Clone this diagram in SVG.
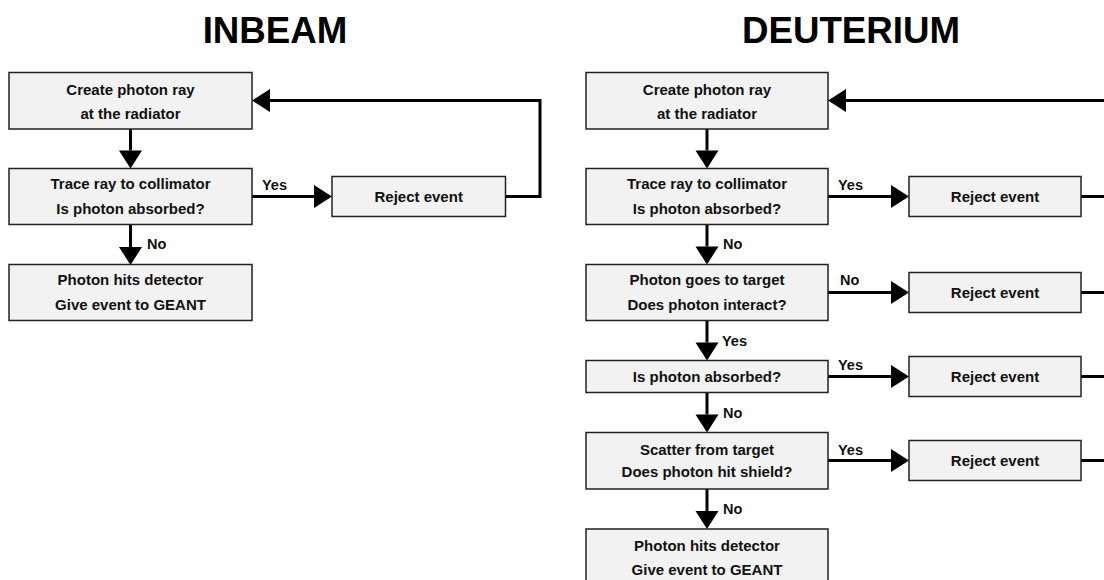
<svg xmlns="http://www.w3.org/2000/svg" width="1104" height="580" viewBox="0 0 1104 580">
  <defs>
    <style>
      .box { fill: #f2f2f2; stroke: #222; stroke-width: 1.5; }
      .t { font-family: "Liberation Sans", Arial, sans-serif; font-weight: bold; font-size: 15px; fill: #111; text-anchor: middle; }
      .lbl { font-family: "Liberation Sans", Arial, sans-serif; font-weight: bold; font-size: 14.5px; fill: #111; }
      .title { font-family: "Liberation Sans", Arial, sans-serif; font-weight: bold; font-size: 36.7px; fill: #000; text-anchor: middle; }
      .wire { fill: none; stroke: #000; stroke-width: 3; }
      .arr { fill: none; stroke: #000; stroke-width: 3; marker-end: url(#head); }
    </style>
    <!-- solid triangular arrowhead; the line stops at the base of the triangle -->
    <marker id="head" markerUnits="userSpaceOnUse" markerWidth="18" markerHeight="23" refX="0" refY="11.5" orient="auto" overflow="visible">
      <path d="M0,0 L18,11.5 L0,23 Z" fill="#000"/>
    </marker>
  </defs>

  <rect width="1104" height="580" fill="#fff"/>

  <text class="title" x="275" y="43">INBEAM</text>
  <text class="title" x="851" y="43">DEUTERIUM</text>

  <!-- connectors -->
  <g id="connectors">
    <!-- INBEAM -->
    <path class="arr" d="M130.5,129 V150.5"/>
    <path class="arr" d="M130.5,224.5 V247"/>
    <path class="arr" d="M252,196.5 H314"/>
    <path class="arr" d="M505.5,196.5 H540 V100.5 H270"/>
    <text class="lbl" x="262" y="190">Yes</text>
    <text class="lbl" x="147" y="249">No</text>

    <!-- DEUTERIUM, main column -->
    <path class="arr" d="M707,129 V150.5"/>
    <path class="arr" d="M707,224.5 V246.5"/>
    <path class="arr" d="M707,320.5 V342.5"/>
    <path class="arr" d="M707,392.5 V414.5"/>
    <path class="arr" d="M707,489 V511"/>
    <text class="lbl" x="723" y="249">No</text>
    <text class="lbl" x="722" y="346">Yes</text>
    <text class="lbl" x="723" y="418">No</text>
    <text class="lbl" x="723" y="514">No</text>

    <!-- DEUTERIUM, branches to reject -->
    <path class="arr" d="M828,196.5 H891"/>
    <path class="arr" d="M828,292.5 H891"/>
    <path class="arr" d="M828,376.5 H891"/>
    <path class="arr" d="M828,460.5 H891"/>
    <text class="lbl" x="838" y="190">Yes</text>
    <text class="lbl" x="840" y="285">No</text>
    <text class="lbl" x="838" y="370">Yes</text>
    <text class="lbl" x="838" y="454.5">Yes</text>

    <!-- DEUTERIUM, return lines from the reject boxes -->
    <path class="wire" d="M1081,196.5 H1110"/>
    <path class="wire" d="M1081,292.5 H1110"/>
    <path class="wire" d="M1081,376.5 H1110"/>
    <path class="wire" d="M1081,460.5 H1110"/>
    <path class="arr" d="M1110,100.5 H846"/>
  </g>

  <!-- INBEAM nodes -->
  <g id="in-create">
    <rect class="box" x="9" y="72.5" width="243" height="56.5"/>
    <text class="t" x="130.5" y="94.5">Create photon ray</text>
    <text class="t" x="130.5" y="118.5">at the radiator</text>
  </g>
  <g id="in-trace">
    <rect class="box" x="9" y="168.5" width="243" height="56"/>
    <text class="t" x="130.5" y="189">Trace ray to collimator</text>
    <text class="t" x="130.5" y="213.5">Is photon absorbed?</text>
  </g>
  <g id="in-detect">
    <rect class="box" x="9" y="264.5" width="243" height="56"/>
    <text class="t" x="130.5" y="285">Photon hits detector</text>
    <text class="t" x="130.5" y="310">Give event to GEANT</text>
  </g>
  <g id="in-reject">
    <rect class="box" x="332" y="176.5" width="173.5" height="40"/>
    <text class="t" x="418.7" y="201.5">Reject event</text>
  </g>

  <!-- DEUTERIUM nodes -->
  <g id="d-create">
    <rect class="box" x="586" y="72.5" width="242" height="56.5"/>
    <text class="t" x="707" y="94.5">Create photon ray</text>
    <text class="t" x="707" y="118.5">at the radiator</text>
  </g>
  <g id="d-trace">
    <rect class="box" x="586" y="168.5" width="242" height="56"/>
    <text class="t" x="707" y="189">Trace ray to collimator</text>
    <text class="t" x="707" y="213.5">Is photon absorbed?</text>
  </g>
  <g id="d-target">
    <rect class="box" x="586" y="264.5" width="242" height="56"/>
    <text class="t" x="707" y="285">Photon goes to target</text>
    <text class="t" x="707" y="309.5">Does photon interact?</text>
  </g>
  <g id="d-absorb">
    <rect class="box" x="586" y="360.5" width="242" height="32"/>
    <text class="t" x="707" y="381.5">Is photon absorbed?</text>
  </g>
  <g id="d-scatter">
    <rect class="box" x="586" y="432.5" width="242" height="56.5"/>
    <text class="t" x="707" y="454.5">Scatter from target</text>
    <text class="t" x="707" y="477">Does photon hit shield?</text>
  </g>
  <g id="d-detect">
    <rect class="box" x="586" y="529" width="242" height="56"/>
    <text class="t" x="707" y="550.5">Photon hits detector</text>
    <text class="t" x="707" y="575">Give event to GEANT</text>
  </g>
  <g id="d-reject-1">
    <rect class="box" x="909" y="176.5" width="172" height="40"/>
    <text class="t" x="995" y="201.5">Reject event</text>
  </g>
  <g id="d-reject-2">
    <rect class="box" x="909" y="272.5" width="172" height="40"/>
    <text class="t" x="995" y="297.5">Reject event</text>
  </g>
  <g id="d-reject-3">
    <rect class="box" x="909" y="356.5" width="172" height="40"/>
    <text class="t" x="995" y="381.5">Reject event</text>
  </g>
  <g id="d-reject-4">
    <rect class="box" x="909" y="440.5" width="172" height="40"/>
    <text class="t" x="995" y="465.5">Reject event</text>
  </g>
</svg>
